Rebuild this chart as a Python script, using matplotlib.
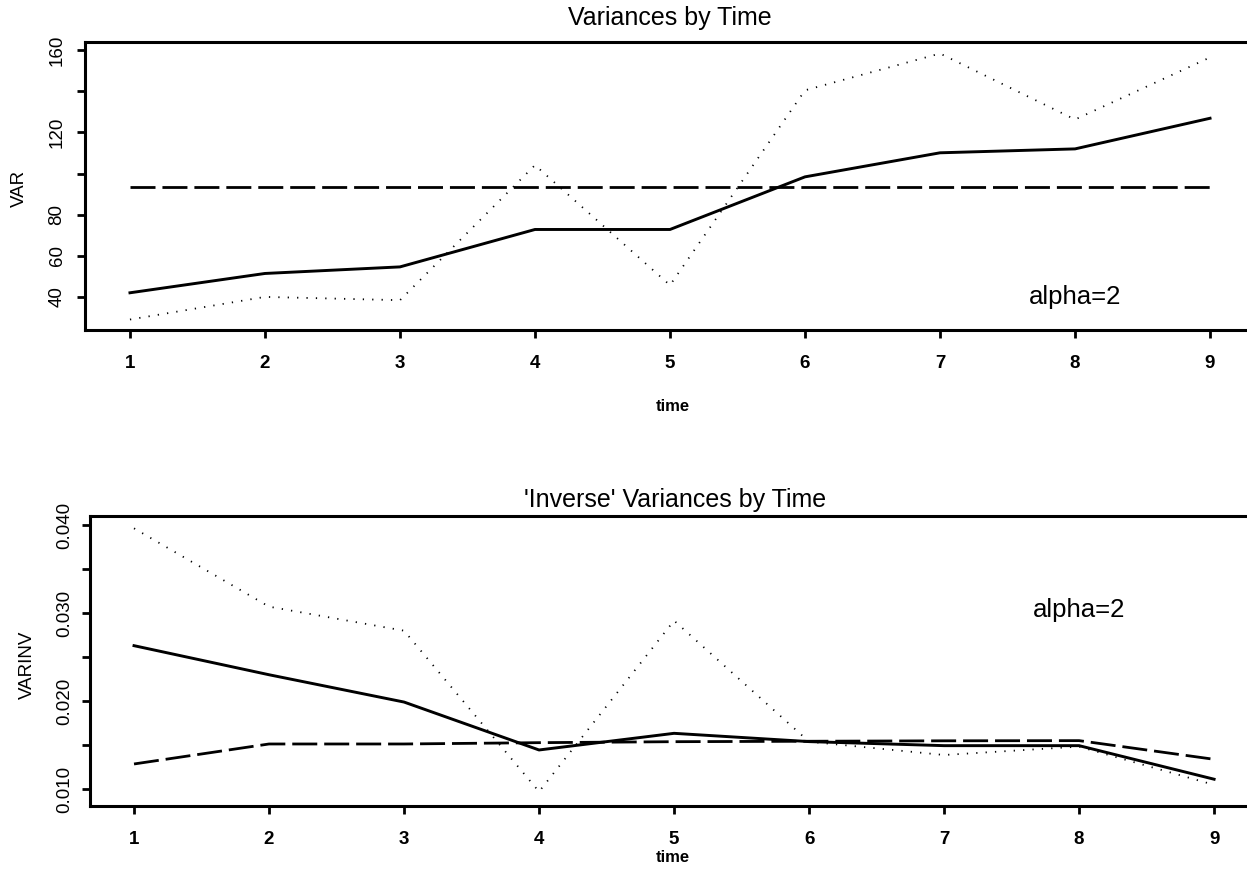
import matplotlib
matplotlib.use("Agg")
import matplotlib.pyplot as plt

plt.rcParams['font.family'] = ['Liberation Sans', 'DejaVu Sans']

# time points
time = [1, 2, 3, 4, 5, 6, 7, 8, 9]

# top panel: variances
var_solid = [42.0, 51.4, 54.6, 72.8, 72.8, 98.4, 110.1, 112.0, 126.9]
var_dashed = [93.5, 93.5, 93.5, 93.5, 93.5, 93.5, 93.5, 93.5, 93.5]
var_dotted = [29.0, 40.0, 38.4, 104.1, 45.7, 140.5, 158.4, 126.3, 156.5]

# bottom panel: inverse variances
inv_solid = [0.0263, 0.0230, 0.0199, 0.01446, 0.01635, 0.01541, 0.01495, 0.01495, 0.01114]
inv_dashed = [0.01287, 0.01514, 0.01514, 0.01529, 0.01540, 0.01545, 0.01550, 0.01552, 0.0134]
inv_dotted = [0.03962, 0.03073, 0.0280, 0.00973, 0.02914, 0.01540, 0.01389, 0.01484, 0.0105]

var_ticks = [40, 60, 80, 100, 120, 140, 160]
var_ticklabels = ['40', '60', '80', '', '120', '', '160']
inv_ticks = [0.010, 0.015, 0.020, 0.025, 0.030, 0.035, 0.040]
inv_ticklabels = ['0.010', '', '0.020', '', '0.030', '', '0.040']

W, H = 1247, 886
fig = plt.figure(figsize=(W / 100, H / 100), dpi=100)

def px_axes(left, top, right, bottom):
    return fig.add_axes([left / W, 1 - bottom / H, (right - left) / W, (bottom - top) / H])

ax1 = px_axes(85, 42, 1255, 330)
ax2 = px_axes(90, 516, 1260, 806)

dash = (0, (9, 2.5))
dot = (0, (0.7, 4.5))

ax1.plot(time, var_solid, color='black', lw=2.1)
ax1.plot(time, var_dashed, color='black', lw=2.0, linestyle=dash)
ax1.plot(time, var_dotted, color='black', lw=1.3, linestyle=dot)
ax1.set_xlim(0.667, 9.333)
ax1.set_ylim(23.9, 164.0)
ax1.set_yticks(var_ticks)
ax1.set_yticklabels(var_ticklabels)
ax1.set_title('Variances by Time', fontsize=18, pad=12)
ax1.set_ylabel('VAR', fontsize=13.5)
ax1.set_xlabel('time', fontsize=12, fontweight='bold')
ax1.xaxis.set_label_coords(0.5026, -0.24)
ax1.yaxis.set_label_coords(-0.049, 0.4925)
ax1.text(8.0, 40, 'alpha=2', fontsize=18.5, ha='center', va='center')

ax2.plot(time, inv_solid, color='black', lw=2.1)
ax2.plot(time, inv_dashed, color='black', lw=2.0, linestyle=dash)
ax2.plot(time, inv_dotted, color='black', lw=1.3, linestyle=dot)
ax2.set_xlim(0.674, 9.34)
ax2.set_ylim(0.0081, 0.04102)
ax2.set_yticks(inv_ticks)
ax2.set_yticklabels(inv_ticklabels)
ax2.set_title("'Inverse' Variances by Time", fontsize=18, pad=6.5)
ax2.set_ylabel('VARINV', fontsize=13.5)
ax2.set_xlabel('time', fontsize=12, fontweight='bold')
ax2.xaxis.set_label_coords(0.498, -0.15)
ax2.yaxis.set_label_coords(-0.0466, 0.486)
ax2.text(8.0, 0.0304, 'alpha=2', fontsize=18.5, ha='center', va='center')

for ax in (ax1, ax2):
    ax.set_xticks(time)
    ax.set_xticklabels([str(t) for t in time], fontweight='bold')
    ax.tick_params(axis='x', length=6, width=2, pad=12, labelsize=13.5)
    ax.tick_params(axis='y', length=6, width=2, pad=8, labelsize=13.5)
    for lab in ax.get_yticklabels():
        lab.set_rotation(90)
        lab.set_va('center')
    for sp in ax.spines.values():
        sp.set_linewidth(2.2)

ax2.tick_params(axis='y', pad=6)

fig.savefig('out.png', dpi=100)
